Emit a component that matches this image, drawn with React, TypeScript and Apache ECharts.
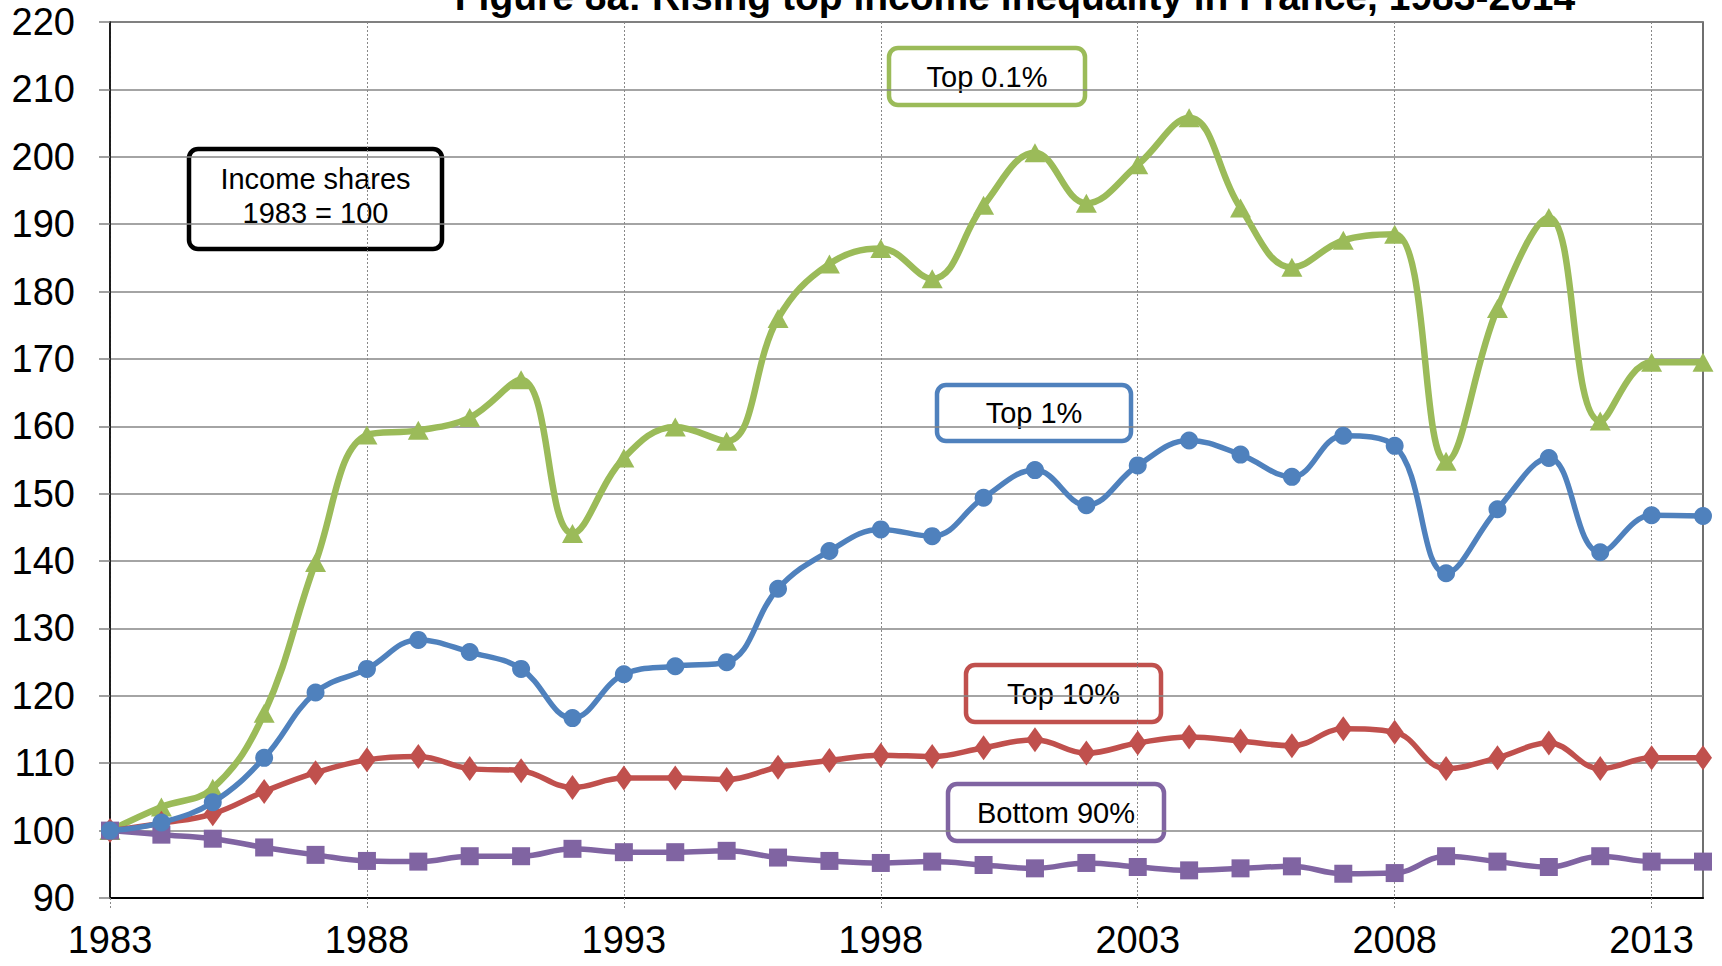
import React, { useEffect, useRef } from "react";
import * as echarts from "echarts";

const years: string[] = [
  "1983","1984","1985","1986","1987","1988","1989","1990","1991","1992","1993","1994","1995","1996","1997","1998",
  "1999","2000","2001","2002","2003","2004","2005","2006","2007","2008","2009","2010","2011","2012","2013","2014",
];

const top01: number[] = [
  100, 103.5, 106.3, 117.4, 139.8, 158.7, 159.4, 161.3, 166.9, 144.1, 155.3, 159.9, 157.8, 176.0, 184.1, 186.4,
  181.9, 192.8, 200.6, 193.1, 198.8, 205.8, 192.4, 183.6, 187.6, 188.5, 154.8, 177.5, 191.0, 160.8, 169.5, 169.5,
];

const top1: number[] = [
  100, 101.2, 104.2, 110.8, 120.5, 124.0, 128.3, 126.5, 124.0, 116.7, 123.2, 124.4, 125.0, 135.9, 141.5, 144.7,
  143.7, 149.4, 153.5, 148.3, 154.2, 157.9, 155.8, 152.5, 158.6, 157.1, 138.2, 147.7, 155.3, 141.3, 146.8, 146.7,
];

const top10: number[] = [
  100, 101.1, 102.5, 105.8, 108.6, 110.5, 111.0, 109.2, 108.9, 106.4, 107.8, 107.8, 107.6, 109.4, 110.4, 111.2,
  111.0, 112.3, 113.5, 111.5, 113.0, 113.9, 113.3, 112.6, 115.1, 114.6, 109.2, 110.8, 113.0, 109.2, 110.8, 110.8,
];

const bottom90: number[] = [
  100, 99.4, 98.8, 97.5, 96.4, 95.5, 95.4, 96.2, 96.2, 97.3, 96.8, 96.8, 97.0, 96.0, 95.5, 95.2,
  95.4, 94.9, 94.4, 95.2, 94.6, 94.1, 94.4, 94.7, 93.6, 93.7, 96.2, 95.4, 94.6, 96.2, 95.4, 95.4,
];

const titleText = "Figure 8a: Rising top income inequality in France, 1983-2014";
const noteLines = ["Income shares", "1983 = 100"];
const labelTop01 = "Top 0.1%";
const labelTop1 = "Top 1%";
const labelTop10 = "Top 10%";
const labelBottom90 = "Bottom 90%";

const GREEN = "#9BBB59";
const BLUE = "#4F81BD";
const RED = "#C0504D";
const PURPLE = "#8064A2";
const FONT = "Liberation Sans, Arial, sans-serif";

function box(x: number, y: number, w: number, h: number, color: string, lines: string[], lh: number, dy: number) {
  const children: any[] = [
    {
      type: "rect",
      shape: { x: 0, y: 0, width: w, height: h, r: 9 },
      style: { fill: "#fff", stroke: color, lineWidth: 4.5 },
    },
  ];
  const n = lines.length;
  lines.forEach((t, i) => {
    children.push({
      type: "text",
      x: w / 2,
      y: h / 2 + dy + (i - (n - 1) / 2) * lh,
      style: {
        text: t,
        fill: "#000",
        font: `29px ${FONT}`,
        align: "center",
        verticalAlign: "middle",
      },
    });
  });
  return { type: "group", x, y, z: 100, children };
}

export default function App() {
  const ref = useRef<HTMLDivElement>(null);
  useEffect(() => {
    if (!ref.current) return;
    const chart = echarts.init(ref.current, undefined, { renderer: "svg" });
    const mk = (name: string, data: number[], color: string, symbol: string, size: any, lw: number, z: number) => ({
      name,
      type: "line",
      data,
      smooth: 0.4,
      symbol,
      symbolSize: size,
      showAllSymbol: true,
      z,
      lineStyle: { color, width: lw },
      itemStyle: { color, borderWidth: 0 },
    });
    chart.setOption({
      animation: false,
      backgroundColor: "#fff",
      grid: {
        left: 110,
        top: 22,
        width: 1593,
        height: 876,
        show: true,
        borderColor: "#404040",
        borderWidth: 1.5,
        containLabel: false,
      },
      xAxis: {
        type: "category",
        data: years,
        boundaryGap: false,
        axisLine: { show: true, lineStyle: { color: "#000", width: 2 } },
        axisTick: {
          show: true,
          interval: 4,
          length: 12,
          lineStyle: { color: "#888", width: 1, type: [2, 2] },
        },
        axisLabel: {
          interval: 4,
          margin: 23,
          color: "#000",
          fontSize: 38,
          fontFamily: FONT,
        },
        splitLine: {
          show: true,
          interval: 4,
          lineStyle: { color: "#888", width: 1, type: [2, 2] },
        },
      },
      yAxis: {
        type: "value",
        min: 90,
        max: 220,
        interval: 10,
        axisLine: { show: true, lineStyle: { color: "#000", width: 1.5 } },
        axisTick: { show: true, length: 11, lineStyle: { color: "#808080", width: 1.5 } },
        axisLabel: {
          margin: 35,
          color: "#000",
          fontSize: 38,
          fontFamily: FONT,
        },
        splitLine: { show: true, lineStyle: { color: "#868686", width: 1.5 } },
      },
      series: [
        mk("Top 0.1%", top01, GREEN, "triangle", [21, 19], 6.5, 2),
        mk("Top 10%", top10, RED, "diamond", [18, 25], 5.5, 3),
        mk("Bottom 90%", bottom90, PURPLE, "rect", [18, 18], 5.5, 4),
        mk("Top 1%", top1, BLUE, "circle", 18, 5.5, 5),
      ],
      graphic: [
        {
          type: "text",
          x: 1015,
          y: -4,
          z: 100,
          style: {
            text: titleText,
            fill: "#000",
            font: `bold 39px ${FONT}`,
            align: "center",
            verticalAlign: "middle",
          },
        },
        box(189, 149, 253, 100, "#000", noteLines, 34, -3),
        box(889, 48, 196, 57, GREEN, [labelTop01], 0, 0),
        box(937, 385, 194, 56, BLUE, [labelTop1], 0, 0),
        box(966, 665, 195, 57, RED, [labelTop10], 0, 0),
        box(948, 784, 216, 57, PURPLE, [labelBottom90], 0, 0),
      ],
    });
    return () => chart.dispose();
  }, []);
  return (
    <div
      ref={ref}
      style={{ position: "fixed", left: 0, top: 0, width: 1722, height: 966, background: "#fff" }}
    />
  );
}
